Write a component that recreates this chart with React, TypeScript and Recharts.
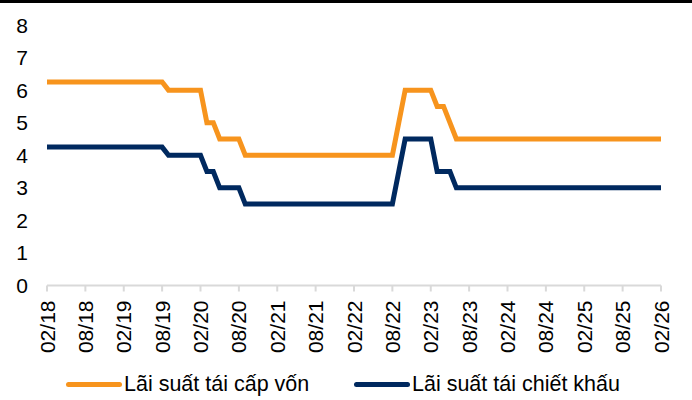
import React from "react";
import { LineChart, Line, XAxis, YAxis, Legend } from "recharts";

const months = [
  "02/18", "03/18", "04/18", "05/18", "06/18", "07/18", "08/18", "09/18", "10/18", "11/18", "12/18",
  "01/19", "02/19", "03/19", "04/19", "05/19", "06/19", "07/19", "08/19", "09/19", "10/19", "11/19", "12/19",
  "01/20", "02/20", "03/20", "04/20", "05/20", "06/20", "07/20", "08/20", "09/20", "10/20", "11/20", "12/20",
  "01/21", "02/21", "03/21", "04/21", "05/21", "06/21", "07/21", "08/21", "09/21", "10/21", "11/21", "12/21",
  "01/22", "02/22", "03/22", "04/22", "05/22", "06/22", "07/22", "08/22", "09/22", "10/22", "11/22", "12/22",
  "01/23", "02/23", "03/23", "04/23", "05/23", "06/23", "07/23", "08/23", "09/23", "10/23", "11/23", "12/23",
  "01/24", "02/24", "03/24", "04/24", "05/24", "06/24", "07/24", "08/24", "09/24", "10/24", "11/24", "12/24",
  "01/25", "02/25", "03/25", "04/25", "05/25", "06/25", "07/25", "08/25", "09/25", "10/25", "11/25", "12/25",
  "01/26", "02/26",
];

const refinancing = [
  6.25, 6.25, 6.25, 6.25, 6.25, 6.25, 6.25, 6.25, 6.25, 6.25, 6.25,
  6.25, 6.25, 6.25, 6.25, 6.25, 6.25, 6.25, 6.25, 6.0, 6.0, 6.0, 6.0,
  6.0, 6.0, 5.0, 5.0, 4.5, 4.5, 4.5, 4.5, 4.0, 4.0, 4.0, 4.0,
  4.0, 4.0, 4.0, 4.0, 4.0, 4.0, 4.0, 4.0, 4.0, 4.0, 4.0, 4.0,
  4.0, 4.0, 4.0, 4.0, 4.0, 4.0, 4.0, 4.0, 5.0, 6.0, 6.0, 6.0,
  6.0, 6.0, 5.5, 5.5, 5.0, 4.5, 4.5, 4.5, 4.5, 4.5, 4.5, 4.5,
  4.5, 4.5, 4.5, 4.5, 4.5, 4.5, 4.5, 4.5, 4.5, 4.5, 4.5, 4.5,
  4.5, 4.5, 4.5, 4.5, 4.5, 4.5, 4.5, 4.5, 4.5, 4.5, 4.5, 4.5,
  4.5, 4.5,
];

const discount = [
  4.25, 4.25, 4.25, 4.25, 4.25, 4.25, 4.25, 4.25, 4.25, 4.25, 4.25,
  4.25, 4.25, 4.25, 4.25, 4.25, 4.25, 4.25, 4.25, 4.0, 4.0, 4.0, 4.0,
  4.0, 4.0, 3.5, 3.5, 3.0, 3.0, 3.0, 3.0, 2.5, 2.5, 2.5, 2.5,
  2.5, 2.5, 2.5, 2.5, 2.5, 2.5, 2.5, 2.5, 2.5, 2.5, 2.5, 2.5,
  2.5, 2.5, 2.5, 2.5, 2.5, 2.5, 2.5, 2.5, 3.5, 4.5, 4.5, 4.5,
  4.5, 4.5, 3.5, 3.5, 3.5, 3.0, 3.0, 3.0, 3.0, 3.0, 3.0, 3.0,
  3.0, 3.0, 3.0, 3.0, 3.0, 3.0, 3.0, 3.0, 3.0, 3.0, 3.0, 3.0,
  3.0, 3.0, 3.0, 3.0, 3.0, 3.0, 3.0, 3.0, 3.0, 3.0, 3.0, 3.0,
  3.0, 3.0,
];

const xTicks = [
  "02/18", "08/18", "02/19", "08/19", "02/20", "08/20", "02/21", "08/21", "02/22",
  "08/22", "02/23", "08/23", "02/24", "08/24", "02/25", "08/25", "02/26",
];
const yTicks = [0, 1, 2, 3, 4, 5, 6, 7, 8];

const ORANGE = "#F7941D";
const NAVY = "#00295F";

const series = [
  { key: "refinancing", name: "Lãi suất tái cấp vốn", color: ORANGE },
  { key: "discount", name: "Lãi suất tái chiết khấu", color: NAVY },
];

const data = months.map((m, i) => ({
  month: m,
  refinancing: refinancing[i],
  discount: discount[i],
}));

const FONT = "'Liberation Sans', Arial, sans-serif";

const XTick = (props: any) => {
  const { x, y, payload } = props;
  return (
    <text
      transform={`translate(${x},${y}) rotate(-90)`}
      textAnchor="end"
      dominantBaseline="central"
      fontFamily={FONT}
      fontSize={21}
      fill="#000"
    >
      {payload.value}
    </text>
  );
};

const YTick = (props: any) => {
  const { x, y, payload } = props;
  return (
    <text x={x} y={y} textAnchor="end" dominantBaseline="central" fontFamily={FONT} fontSize={21} fill="#000">
      {payload.value}
    </text>
  );
};

const legendLefts = [66, 354];

const LegendContent = () => {
  return (
    <div style={{ position: "relative", height: 30, width: 692 }}>
      {series.map((s, i) => (
        <div
          key={s.key}
          style={{ position: "absolute", left: legendLefts[i], top: 0, height: 30, display: "flex", alignItems: "center" }}
        >
          <div style={{ width: 56, height: 5, background: s.color, borderRadius: 3 }} />
          <span
            style={{
              marginLeft: 2,
              fontFamily: FONT,
              fontSize: 21.5,
              lineHeight: "30px",
              color: "#000",
              whiteSpace: "nowrap",
            }}
          >
            {s.name}
          </span>
        </div>
      ))}
    </div>
  );
};

export default function App() {
  return (
    <div style={{ position: "fixed", left: 0, top: 0, width: 692, height: 400, background: "#fff" }}>
      <div style={{ position: "absolute", left: 0, top: 0, width: 692, height: 3, background: "#000" }} />
      <div style={{ position: "absolute", left: 0, top: 0 }}>
        <LineChart width={692} height={400} data={data} margin={{ top: 25, right: 31, left: 7, bottom: 14.5 }}>
          <XAxis
            dataKey="month"
            ticks={xTicks}
            interval={0}
            height={70}
            tick={<XTick />}
            tickSize={6}
            tickMargin={9}
            axisLine={{ stroke: "#D9D9D9", strokeWidth: 2 }}
            tickLine={{ stroke: "#D9D9D9", strokeWidth: 2 }}
          />
          <YAxis
            domain={[0, 8]}
            ticks={yTicks}
            width={40}
            axisLine={false}
            tickLine={false}
            tickSize={0}
            tickMargin={19}
            tick={<YTick />}
            interval={0}
          />
          <Legend
            verticalAlign="bottom"
            content={<LegendContent />}
            wrapperStyle={{ left: 0, top: 369, width: 692 }}
          />
          {series.map((s) => (
            <Line
              key={s.key}
              type="linear"
              dataKey={s.key}
              name={s.name}
              stroke={s.color}
              strokeWidth={5}
              dot={false}
              activeDot={false}
              isAnimationActive={false}
            />
          ))}
        </LineChart>
      </div>
    </div>
  );
}
